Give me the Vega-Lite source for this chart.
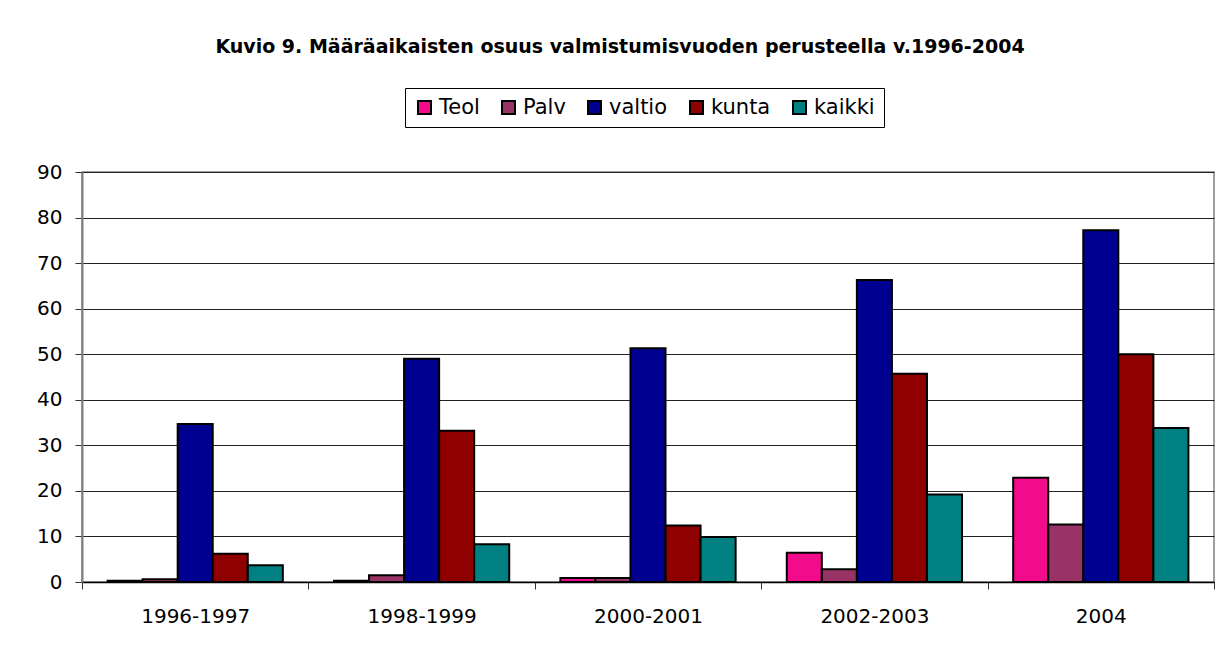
{
  "$schema": "https://vega.github.io/schema/vega-lite/v6.json",
  "width": 1132,
  "height": 410,
  "autosize": {"type": "none"},
  "padding": {"left": 82, "top": 172, "right": 14, "bottom": 75},
  "background": "white",
  "title": {
    "text": "Kuvio 9. Määräaikaisten osuus valmistumisvuoden perusteella v.1996-2004",
    "font": "DejaVu Sans",
    "fontSize": 19,
    "fontWeight": "bold",
    "color": "black",
    "anchor": "middle",
    "offset": 31,
    "dx": -28
  },
  "data": {
    "values": [
      {"jakso": "1996-1997", "sarja": "Teol", "arvo": 0.3},
      {"jakso": "1996-1997", "sarja": "Palv", "arvo": 0.6},
      {"jakso": "1996-1997", "sarja": "valtio", "arvo": 34.7},
      {"jakso": "1996-1997", "sarja": "kunta", "arvo": 6.2},
      {"jakso": "1996-1997", "sarja": "kaikki", "arvo": 3.7},
      {"jakso": "1998-1999", "sarja": "Teol", "arvo": 0.3},
      {"jakso": "1998-1999", "sarja": "Palv", "arvo": 1.5},
      {"jakso": "1998-1999", "sarja": "valtio", "arvo": 49.0},
      {"jakso": "1998-1999", "sarja": "kunta", "arvo": 33.2},
      {"jakso": "1998-1999", "sarja": "kaikki", "arvo": 8.3},
      {"jakso": "2000-2001", "sarja": "Teol", "arvo": 0.9},
      {"jakso": "2000-2001", "sarja": "Palv", "arvo": 0.9},
      {"jakso": "2000-2001", "sarja": "valtio", "arvo": 51.3},
      {"jakso": "2000-2001", "sarja": "kunta", "arvo": 12.4},
      {"jakso": "2000-2001", "sarja": "kaikki", "arvo": 9.9},
      {"jakso": "2002-2003", "sarja": "Teol", "arvo": 6.4},
      {"jakso": "2002-2003", "sarja": "Palv", "arvo": 2.8},
      {"jakso": "2002-2003", "sarja": "valtio", "arvo": 66.3},
      {"jakso": "2002-2003", "sarja": "kunta", "arvo": 45.7},
      {"jakso": "2002-2003", "sarja": "kaikki", "arvo": 19.2},
      {"jakso": "2004", "sarja": "Teol", "arvo": 22.9},
      {"jakso": "2004", "sarja": "Palv", "arvo": 12.6},
      {"jakso": "2004", "sarja": "valtio", "arvo": 77.2},
      {"jakso": "2004", "sarja": "kunta", "arvo": 50.0},
      {"jakso": "2004", "sarja": "kaikki", "arvo": 33.8}
    ]
  },
  "mark": {"type": "bar", "stroke": "black", "strokeWidth": 2},
  "encoding": {
    "x": {
      "field": "jakso",
      "type": "nominal",
      "sort": ["1996-1997", "1998-1999", "2000-2001", "2002-2003", "2004"],
      "scale": {"paddingInner": 0, "paddingOuter": 0},
      "axis": {
        "title": null,
        "labelAngle": 0,
        "labelFont": "DejaVu Sans",
        "labelFontSize": 20,
        "labelColor": "black",
        "tickBand": "extent",
        "tickSize": 7,
        "tickColor": "#333333",
        "labelPadding": 17,
        "domainColor": "black",
        "domainWidth": 1.5,
        "grid": false
      }
    },
    "xOffset": {
      "field": "sarja",
      "type": "nominal",
      "sort": ["Teol", "Palv", "valtio", "kunta", "kaikki"],
      "scale": {"paddingInner": 0, "paddingOuter": 0.73}
    },
    "y": {
      "field": "arvo",
      "type": "quantitative",
      "scale": {"domain": [0, 90], "nice": false},
      "axis": {
        "title": null,
        "values": [0, 10, 20, 30, 40, 50, 60, 70, 80, 90],
        "labelFont": "DejaVu Sans",
        "labelFontSize": 20,
        "labelColor": "black",
        "labelPadding": 13,
        "tickSize": 7,
        "tickColor": "#333333",
        "domainColor": "#808080",
        "domainWidth": 2,
        "grid": true,
        "gridColor": "#222222",
        "gridWidth": 1,
        "gridOpacity": 1
      }
    },
    "color": {
      "field": "sarja",
      "type": "nominal",
      "sort": ["Teol", "Palv", "valtio", "kunta", "kaikki"],
      "scale": {
        "domain": ["Teol", "Palv", "valtio", "kunta", "kaikki"],
        "range": ["#F20C8C", "#993366", "#000090", "#8F0000", "#008080"]
      },
      "legend": {
        "title": null,
        "orient": "none",
        "direction": "horizontal",
        "legendX": 323,
        "legendY": -84,
        "strokeColor": "black",
        "padding": 9,
        "symbolType": "square",
        "symbolSize": 169,
        "symbolStrokeColor": "black",
        "symbolStrokeWidth": 2,
        "symbolOpacity": 1,
        "labelFont": "DejaVu Sans",
        "labelFontSize": 21,
        "labelColor": "black",
        "labelOffset": 4,
        "columnPadding": 18
      }
    }
  },
  "config": {
    "view": {"stroke": "#808080", "strokeWidth": 1.5},
    "axis": {"labelFlush": false}
  }
}
